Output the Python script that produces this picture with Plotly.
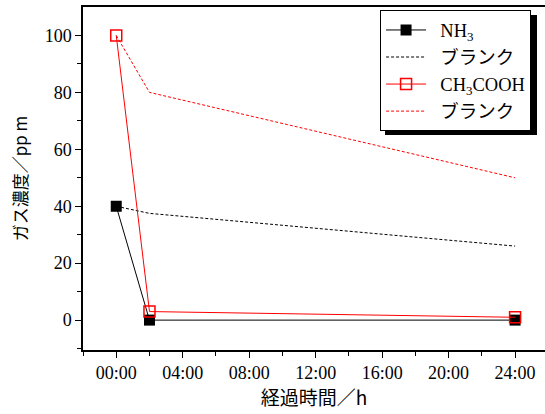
import plotly.graph_objects as go

# elapsed time in hours
hours = [0, 2, 24]

# gas concentration (ppm)
nh3 = [40, 0, 0]
nh3_blank = [40, 37.5, 26]
acetic = [100, 3, 1]
acetic_blank = [100, 80, 50]

tick_hours = [0, 4, 8, 12, 16, 20, 24]
tick_labels = ["00:00", "04:00", "08:00", "12:00", "16:00", "20:00", "24:00"]

serif = "Liberation Serif, Times New Roman, Noto Sans CJK JP, serif"
sans = "Noto Sans CJK JP, sans-serif"

pad = "\u00a0\u00a0"

fig = go.Figure()

fig.add_trace(go.Scatter(
    x=hours, y=nh3, name=pad + "NH<sub>3</sub>", mode="lines+markers",
    line=dict(color="black", width=1),
    marker=dict(symbol="square", size=11, color="black"),
))
fig.add_trace(go.Scatter(
    x=hours, y=nh3_blank, name=pad + "ブランク", mode="lines",
    line=dict(color="black", width=1, dash="3px,2px"),
))
fig.add_trace(go.Scatter(
    x=hours, y=acetic, name=pad + "CH<sub>3</sub>COOH", mode="lines+markers",
    line=dict(color="red", width=1),
    marker=dict(symbol="square-open", size=11, color="red", line=dict(width=1.5)),
))
fig.add_trace(go.Scatter(
    x=hours, y=acetic_blank, name=pad + "ブランク", mode="lines",
    line=dict(color="red", width=1, dash="3px,2px"),
))

# drop shadow behind the legend box
fig.add_shape(type="rect", xref="paper", yref="paper",
              x0=0.6537, x1=0.9827, y0=0.627, y1=0.977,
              fillcolor="black", line=dict(width=0), layer="above")

fig.update_layout(
    width=545, height=414,
    margin=dict(l=83, r=0, t=7, b=64, autoexpand=False),
    paper_bgcolor="white", plot_bgcolor="white",
    showlegend=True,
    legend=dict(
        x=0.643, y=0.99, xanchor="left", yanchor="top",
        bgcolor="white", bordercolor="black", borderwidth=1,
        font=dict(family=serif, size=18.5, color="black"),
        tracegroupgap=0, itemwidth=40,
    ),
    xaxis=dict(
        range=[-2, 25.8],
        tickvals=tick_hours, ticktext=tick_labels,
        ticks="outside", ticklen=6, tickwidth=1, tickcolor="black",
        minor=dict(tickvals=[-2, 2, 6, 10, 14, 18, 22], ticks="outside", ticklen=4, tickcolor="black"),
        showline=True, linecolor="black", linewidth=1.5, mirror=True,
        showgrid=False, zeroline=False,
        tickfont=dict(family=serif, size=18, color="black"),
        title=dict(text="経過時間／h", font=dict(family=sans, size=19, color="black"), standoff=6),
    ),
    yaxis=dict(
        range=[-10.5, 110],
        tickvals=[0, 20, 40, 60, 80, 100],
        ticks="outside", ticklen=6, tickwidth=1, tickcolor="black",
        minor=dict(tickvals=[-10, 10, 30, 50, 70, 90], ticks="outside", ticklen=4, tickcolor="black"),
        showline=True, linecolor="black", linewidth=1.5, mirror=False,
        showgrid=False, zeroline=False,
        tickfont=dict(family=serif, size=18, color="black"),
        title=dict(text="ガス濃度／pp m", font=dict(family=sans, size=17, color="black"), standoff=13),
    ),
)

fig.write_html("out.html")
